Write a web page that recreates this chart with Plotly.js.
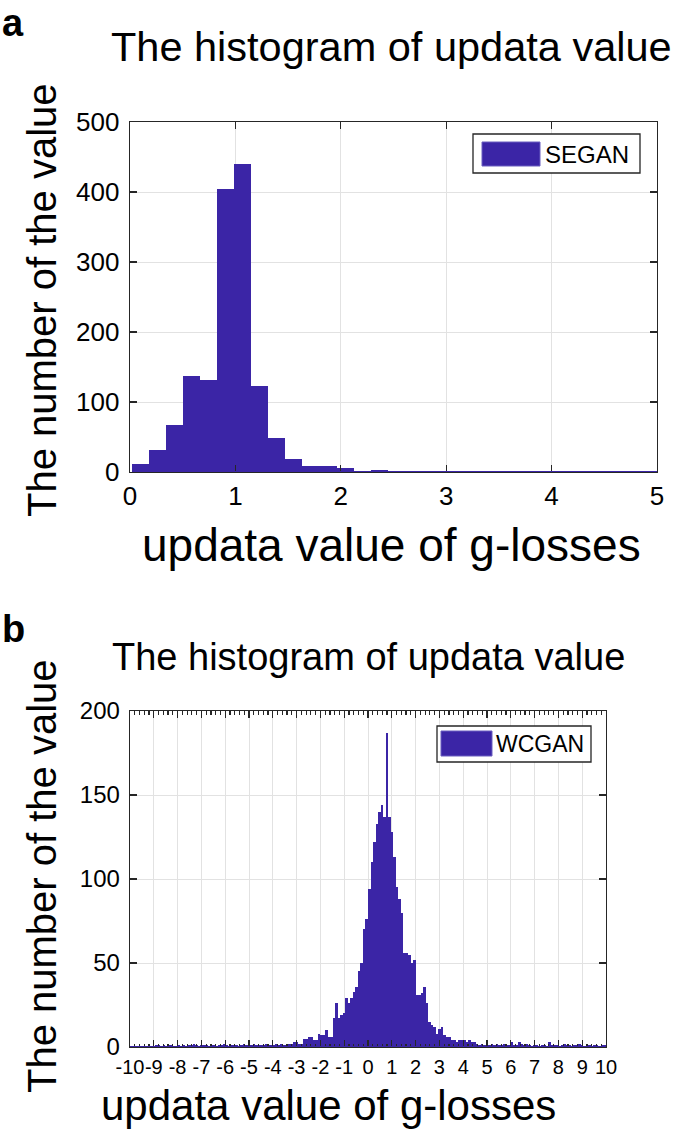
<!DOCTYPE html>
<html>
<head>
<meta charset="utf-8">
<script src="https://cdn.plot.ly/plotly-3.0.1.min.js"></script>
<style>html,body{margin:0;padding:0;background:#fff;}#chart{width:685px;height:1138px;}</style>
</head>
<body>
<div id="chart"></div>
<script>
// ---------- data ----------
// Panel a: SEGAN histogram (bin start, bin width, counts)
const segBinStart = 0.02;
const segBinWidth = 0.1616;
const segCounts = [12,31,67,137,132,404,440,123,48,19,8,9,6,2,3,0,2,2,0,2,0,0,0,0,0,0,0,2,0,0,0];
// Panel b: WCGAN histogram
const wcBinStart = -10;
const wcBinWidth = 20/190;
const wcCounts = [
  0,0,0,0,0,0,0,0,0,0,
  1,1,0,1,0,1,1,0,0,1,
  0,1,0,1,1,2,1,0,1,1,
  1,0,1,1,0,1,1,2,1,0,
  1,1,1,0,1,2,1,1,1,2,
  1,1,1,1,2,1,1,1,2,1,
  2,1,1,2,2,3,3,2,2,5,
  5,6,6,4,4,8,7,7,10,6,
  6,17,26,17,19,20,29,26,29,33,
  36,45,50,70,76,94,110,122,133,140,
  144,137,187,137,128,113,95,88,80,56,
  56,55,50,52,31,31,32,36,26,15,
  13,12,8,11,12,7,6,6,4,4,
  3,4,4,4,3,4,3,3,2,1,
  2,1,2,1,2,1,2,1,1,2,
  1,1,3,1,1,3,2,1,2,1,
  0,1,1,0,1,1,0,3,1,1,
  1,0,1,2,1,1,0,1,1,2,
  1,0,1,1,0,1,1,0,1,1
];
const segLabel = 'SEGAN';
const wcLabel = 'WCGAN';
const titleText = 'The histogram of updata value';
const xTitleText = 'updata value of g-losses';
const yTitleText = 'The number of the value';
const xTicksB = [-10,-9,-8,-7,-6,-5,-4,-3,-2,-1,0,1,2,3,4,5,6,7,8,9,10];

// ---------- helpers ----------
const W = 685, H = 1138;
const px = x => x / W;
const py = y => 1 - y / H;
const centers = (start, w, n) => Array.from({length:n}, (_, i) => start + (i + 0.5) * w);

const barColor = '#3b25a6';
const axisColor = '#262626';
const gridColor = '#e2e2e2';
const FONT = 'Liberation Sans, Arial, Helvetica, sans-serif';

const traces = [
  {type:'bar', x: centers(segBinStart, segBinWidth, segCounts.length), y: segCounts,
   width: segBinWidth, marker:{color:barColor, line:{width:0}}, name: segLabel, xaxis:'x', yaxis:'y'},
  {type:'bar', x: centers(wcBinStart, wcBinWidth, wcCounts.length), y: wcCounts,
   width: wcBinWidth, marker:{color:barColor, line:{width:0}}, name: wcLabel, xaxis:'x2', yaxis:'y2'}
];

const axBase = {
  ticks:'inside', ticklen:7, tickwidth:1.2, tickcolor:axisColor,
  showline:true, linecolor:axisColor, linewidth:1.3, mirror:'allticks',
  showgrid:true, gridcolor:gridColor, gridwidth:1, zeroline:false,
  fixedrange:true, tickangle:0
};

const layout = {
  width: W, height: H,
  margin:{l:0, r:0, t:0, b:0},
  paper_bgcolor:'#ffffff', plot_bgcolor:'#ffffff',
  showlegend:false, bargap:0,
  font:{family:FONT, color:'#000000'},
  xaxis: Object.assign({}, axBase, {domain:[px(130), px(657)], range:[0,5], tick0:0, dtick:1,
    tickfont:{size:26}, anchor:'y'}),
  yaxis: Object.assign({}, axBase, {domain:[py(472), py(122)], range:[0,500], tick0:0, dtick:100,
    tickfont:{size:26}, anchor:'x', ticklabelstandoff:4}),
  xaxis2: Object.assign({}, axBase, {domain:[px(130), px(606)], range:[-10,10],
    tickmode:'array', tickvals:xTicksB, ticktext:xTicksB.map(String),
    tickfont:{size:20}, anchor:'y2', ticklabelstandoff:2,
    minor:{ticks:'inside', ticklen:3.5, tickcolor:axisColor, dtick:0.2, tick0:0, showgrid:false}}),
  yaxis2: Object.assign({}, axBase, {domain:[py(1047), py(711)], range:[0,200], tick0:0, dtick:50,
    tickfont:{size:24}, anchor:'x2', ticklabelstandoff:4}),
  shapes: [
    // histogram baselines (zero-count bins drawn as edge line)
    {type:'line', xref:'x', yref:'y', x0:segBinStart, x1:5, y0:0, y1:0, line:{color:barColor, width:2}, layer:'above'},
    {type:'line', xref:'x2', yref:'y2', x0:wcBinStart, x1:10, y0:0, y1:0, line:{color:barColor, width:2}, layer:'above'},
    // legend a
    {type:'rect', xref:'paper', yref:'paper', x0:px(473), x1:px(640), y0:py(173), y1:py(134),
     line:{color:axisColor, width:1.3}, fillcolor:'#ffffff', layer:'above'},
    {type:'rect', xref:'paper', yref:'paper', x0:px(482), x1:px(540), y0:py(166), y1:py(142),
     line:{color:'#6a5fc0', width:1}, fillcolor:barColor, layer:'above'},
    // legend b
    {type:'rect', xref:'paper', yref:'paper', x0:px(437), x1:px(591), y0:py(762), y1:py(726),
     line:{color:axisColor, width:1.3}, fillcolor:'#ffffff', layer:'above'},
    {type:'rect', xref:'paper', yref:'paper', x0:px(441), x1:px(492), y0:py(756), y1:py(731),
     line:{color:'#6a5fc0', width:1}, fillcolor:barColor, layer:'above'}
  ],
  annotations: [
    {text:'<b>a</b>', xref:'paper', yref:'paper', x:px(0), y:py(0), xanchor:'left', yanchor:'top', showarrow:false, font:{size:38}},
    {text:titleText, xref:'paper', yref:'paper', x:px(392), y:py(47), xanchor:'center', yanchor:'middle', showarrow:false, font:{size:41.5}},
    {text:yTitleText, xref:'paper', yref:'paper', x:px(42), y:py(300), xanchor:'center', yanchor:'middle', textangle:-90, showarrow:false, font:{size:40}},
    {text:xTitleText, xref:'paper', yref:'paper', x:px(392), y:py(545), xanchor:'center', yanchor:'middle', showarrow:false, font:{size:46}},
    {text:segLabel, xref:'paper', yref:'paper', x:px(543), y:py(154), xanchor:'left', yanchor:'middle', showarrow:false, font:{size:24}},

    {text:'<b>b</b>', xref:'paper', yref:'paper', x:px(0), y:py(606), xanchor:'left', yanchor:'top', showarrow:false, font:{size:38}},
    {text:titleText, xref:'paper', yref:'paper', x:px(368), y:py(657), xanchor:'center', yanchor:'middle', showarrow:false, font:{size:38}},
    {text:yTitleText, xref:'paper', yref:'paper', x:px(42), y:py(876), xanchor:'center', yanchor:'middle', textangle:-90, showarrow:false, font:{size:40}},
    {text:xTitleText, xref:'paper', yref:'paper', x:px(328), y:py(1105), xanchor:'center', yanchor:'middle', showarrow:false, font:{size:42}},
    {text:wcLabel, xref:'paper', yref:'paper', x:px(494), y:py(744), xanchor:'left', yanchor:'middle', showarrow:false, font:{size:23}}
  ]
};

Plotly.newPlot('chart', traces, layout, {staticPlot:true, displayModeBar:false});
</script>
</body>
</html>
